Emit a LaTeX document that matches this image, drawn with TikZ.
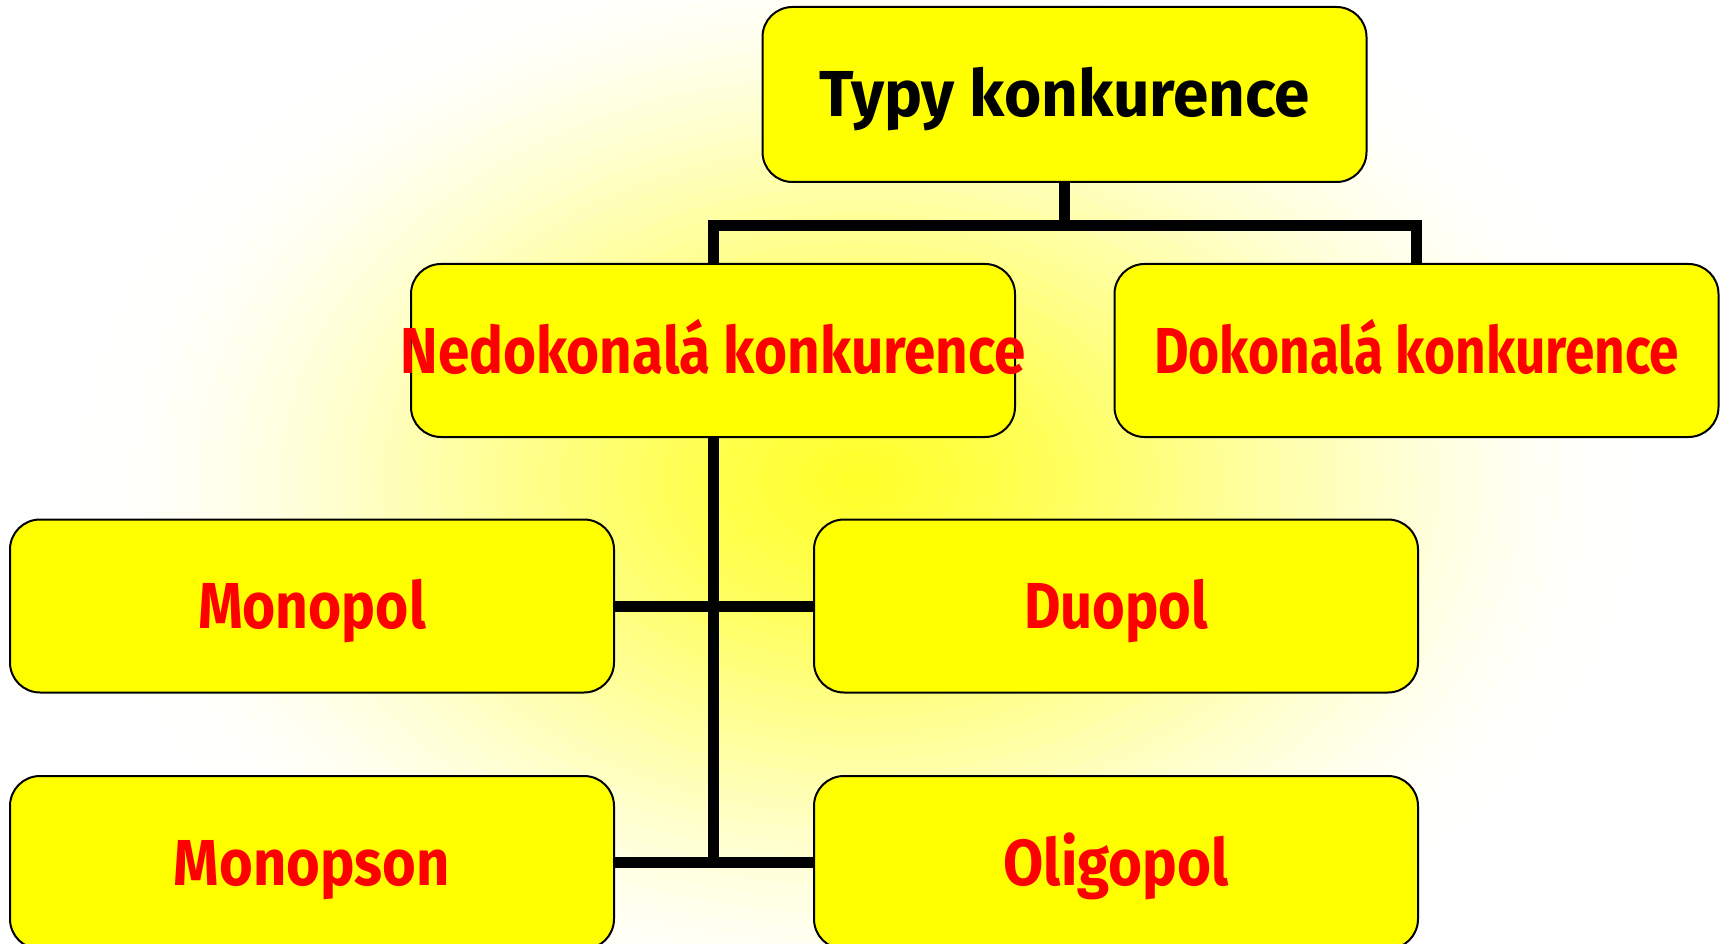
\documentclass[tikz,border=0pt]{standalone}
\usepackage{fontspec}
\setmainfont{Fira Sans}
\usepackage{graphicx}
\definecolor{boxyellow}{HTML}{FFFF00}
\definecolor{txtred}{HTML}{FF0000}
\tikzset{
  box/.style={draw=black, line width=2pt, fill=boxyellow, rounded corners=30pt,
    minimum width=604pt, minimum height=173pt, inner sep=0pt, outer sep=0pt},
  lbl/.style={inner sep=0pt, outer sep=0pt, text height=45pt, text depth=0pt,
    font=\bfseries\fontsize{65}{70}\selectfont, text=txtred},
  conn/.style={line width=11pt, draw=black, line join=miter}
}
\newcommand\fitto[2]{\resizebox{#1pt}{\height}{#2}}
\begin{document}
\begin{tikzpicture}[x=1pt,y=-1pt]
\fill[white] (0,0) rectangle (1725,944);
\useasboundingbox (0,0) rectangle (1725,944);
\foreach \i in {1,...,39} {
  \pgfmathsetmacro\op{0.08*\i/40}
  \fill[boxyellow, opacity=\op] (860,480) ellipse [x radius={800*(1-\i/40)}, y radius={560*(1-\i/40)}];
}
% boxes
\node[box, minimum height=175pt] (top) at (1064.5,94.5) {};
\node[box] (ned) at (713,350.5) {};
\node[box] (dok) at (1416.5,350.5) {};
\node[box] (mpl) at (312,606) {};
\node[box] (duo) at (1116,606) {};
\node[box] (mps) at (312,862.5) {};
\node[box] (oli) at (1116,862.5) {};
% labels
\node[lbl, text=black] (topt) at (top) {\fitto{491}{Typy konkurence}};
\node[lbl] (nedt) at (ned) {\fitto{625}{Nedokonalá konkurence}};
\node[lbl] (dokt) at (dok) {\fitto{525}{Dokonalá konkurence}};
\node[lbl] (mplt) at (mpl) {\fitto{228}{Monopol}};
\node[lbl] (duot) at (duo) {\fitto{184}{Duopol}};
\node[lbl] (mpst) at (mps) {\fitto{276}{Monopson}};
\node[lbl] (olit) at (oli) {\fitto{225}{Oligopol}};
% connectors
\coordinate (bus) at (0,226);
\coordinate (vend) at (713,867.5);
\draw[conn] (top.south) -- (top.south |- bus);
\draw[conn] (ned.north) -- (ned.north |- bus) -- (dok.north |- bus) -- (dok.north);
\draw[conn] (ned.south) -- (vend);
\draw[conn] (mpl.east) -- (duo.west);
\draw[conn] (mps.east) -- (oli.west);
\end{tikzpicture}
\end{document}
